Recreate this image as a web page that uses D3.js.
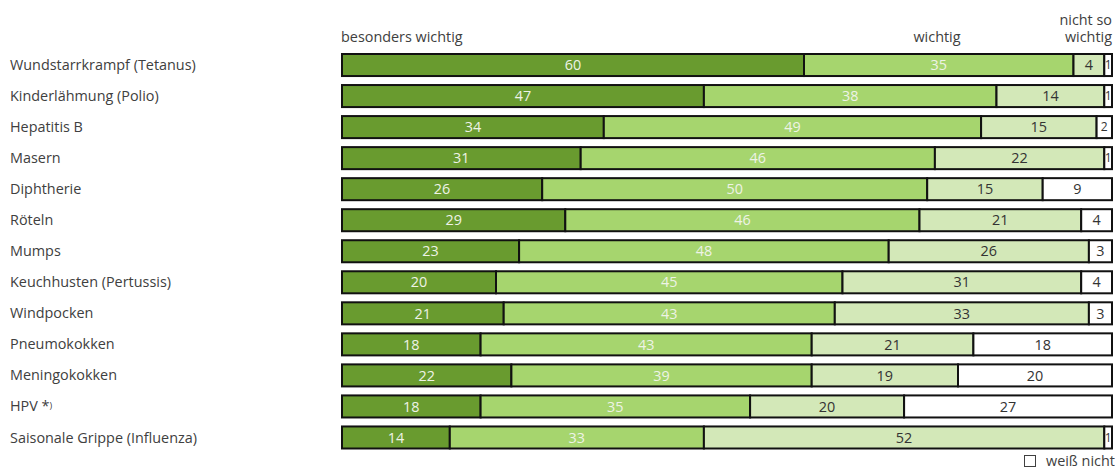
<!DOCTYPE html>
<html><head><meta charset="utf-8">
<script src="https://cdn.jsdelivr.net/npm/d3@7"></script>
<style>body{margin:0;background:#fff}svg{display:block;font-family:"Open Sans",Lato,sans-serif}</style>
</head><body><svg id="c" width="1115" height="470"></svg>
<script>
const categories = ["Wundstarrkrampf (Tetanus)","Kinderlähmung (Polio)","Hepatitis B","Masern","Diphtherie","Röteln","Mumps","Keuchhusten (Pertussis)","Windpocken","Pneumokokken","Meningokokken","HPV *","Saisonale Grippe (Influenza)"];
const besondersWichtig = [60,47,34,31,26,29,23,20,21,18,22,18,14];
const wichtig = [35,38,49,46,50,46,48,45,43,43,39,35,33];
const nichtSoWichtig = [4,14,15,22,15,21,26,31,33,21,19,20,52];
const weissNicht = [1,1,2,1,9,4,3,4,3,18,20,27,1];
const seriesNames = ["besonders wichtig","wichtig","nicht so wichtig","weiß nicht"];
const colors = ["#699b2f","#a6d56e","#d3e8b8","#ffffff"];
const textColors = ["#eef3e6","#eef3e6","#333333","#333333"];

const svg = d3.select("#c");
const x = d3.scaleLinear().domain([0,100]).range([342,1112]);
const y = d3.scaleBand().domain(categories).range([49.5,453]).paddingInner(0.29).paddingOuter(0.145);

const series = [besondersWichtig, wichtig, nichtSoWichtig, weissNicht];
const rows = categories.map((c,i)=>{
  let acc=0;
  return series.map((s,k)=>{const d={cat:c,k,v:s[i],x0:acc,x1:acc+s[i]}; acc+=s[i]; return d;});
});

const fs = 14.4;
// labels
svg.append("g").selectAll("text").data(categories).join("text")
  .attr("x",10).attr("y",d=>y(d)+y.bandwidth()/2).attr("dy","0.35em")
  .attr("font-size",fs).attr("fill","#404040")
  .each(function(d){
    const t=d3.select(this);
    if(d==="HPV *"){t.text("HPV *");t.append("tspan").attr("font-size",9).attr("dy","-0.3em").text(")");}
    else t.text(d);
  });

const g = svg.append("g");
rows.forEach(r=>{
  const gg = g.append("g");
  gg.selectAll("rect").data(r).join("rect")
    .attr("x",d=>x(d.x0)).attr("width",d=>x(d.x1)-x(d.x0))
    .attr("y",d=>y(d.cat)).attr("height",y.bandwidth())
    .attr("fill",d=>colors[d.k]).attr("stroke","#111").attr("stroke-width",2);
  gg.selectAll("text").data(r).join("text")
    .attr("x",d=>(x(d.x0)+x(d.x1))/2).attr("y",d=>y(d.cat)+y.bandwidth()/2).attr("dy","0.36em")
    .attr("text-anchor","middle").attr("font-size",d=>d.v<=2?12:14.4)
    .attr("fill",d=>textColors[d.k]).text(d=>d.v);
});

// header labels
svg.append("text").attr("x",341).attr("y",42).attr("font-size",fs).attr("fill","#404040").text(seriesNames[0]);
svg.append("text").attr("x",937).attr("y",42).attr("text-anchor","middle").attr("font-size",fs).attr("fill","#404040").text(seriesNames[1]);
const h3 = svg.append("text").attr("x",1112).attr("text-anchor","end").attr("font-size",fs).attr("fill","#404040");
h3.append("tspan").attr("x",1112).attr("y",25).text("nicht so");
h3.append("tspan").attr("x",1112).attr("y",42).text("wichtig");

// legend
svg.append("rect").attr("x",1024.5).attr("y",455.5).attr("width",11).attr("height",11).attr("fill","#fff").attr("stroke","#404040").attr("stroke-width",1);
svg.append("text").attr("x",1046).attr("y",466).attr("font-size",fs).attr("fill","#404040").text(seriesNames[3]);
</script></body></html>
